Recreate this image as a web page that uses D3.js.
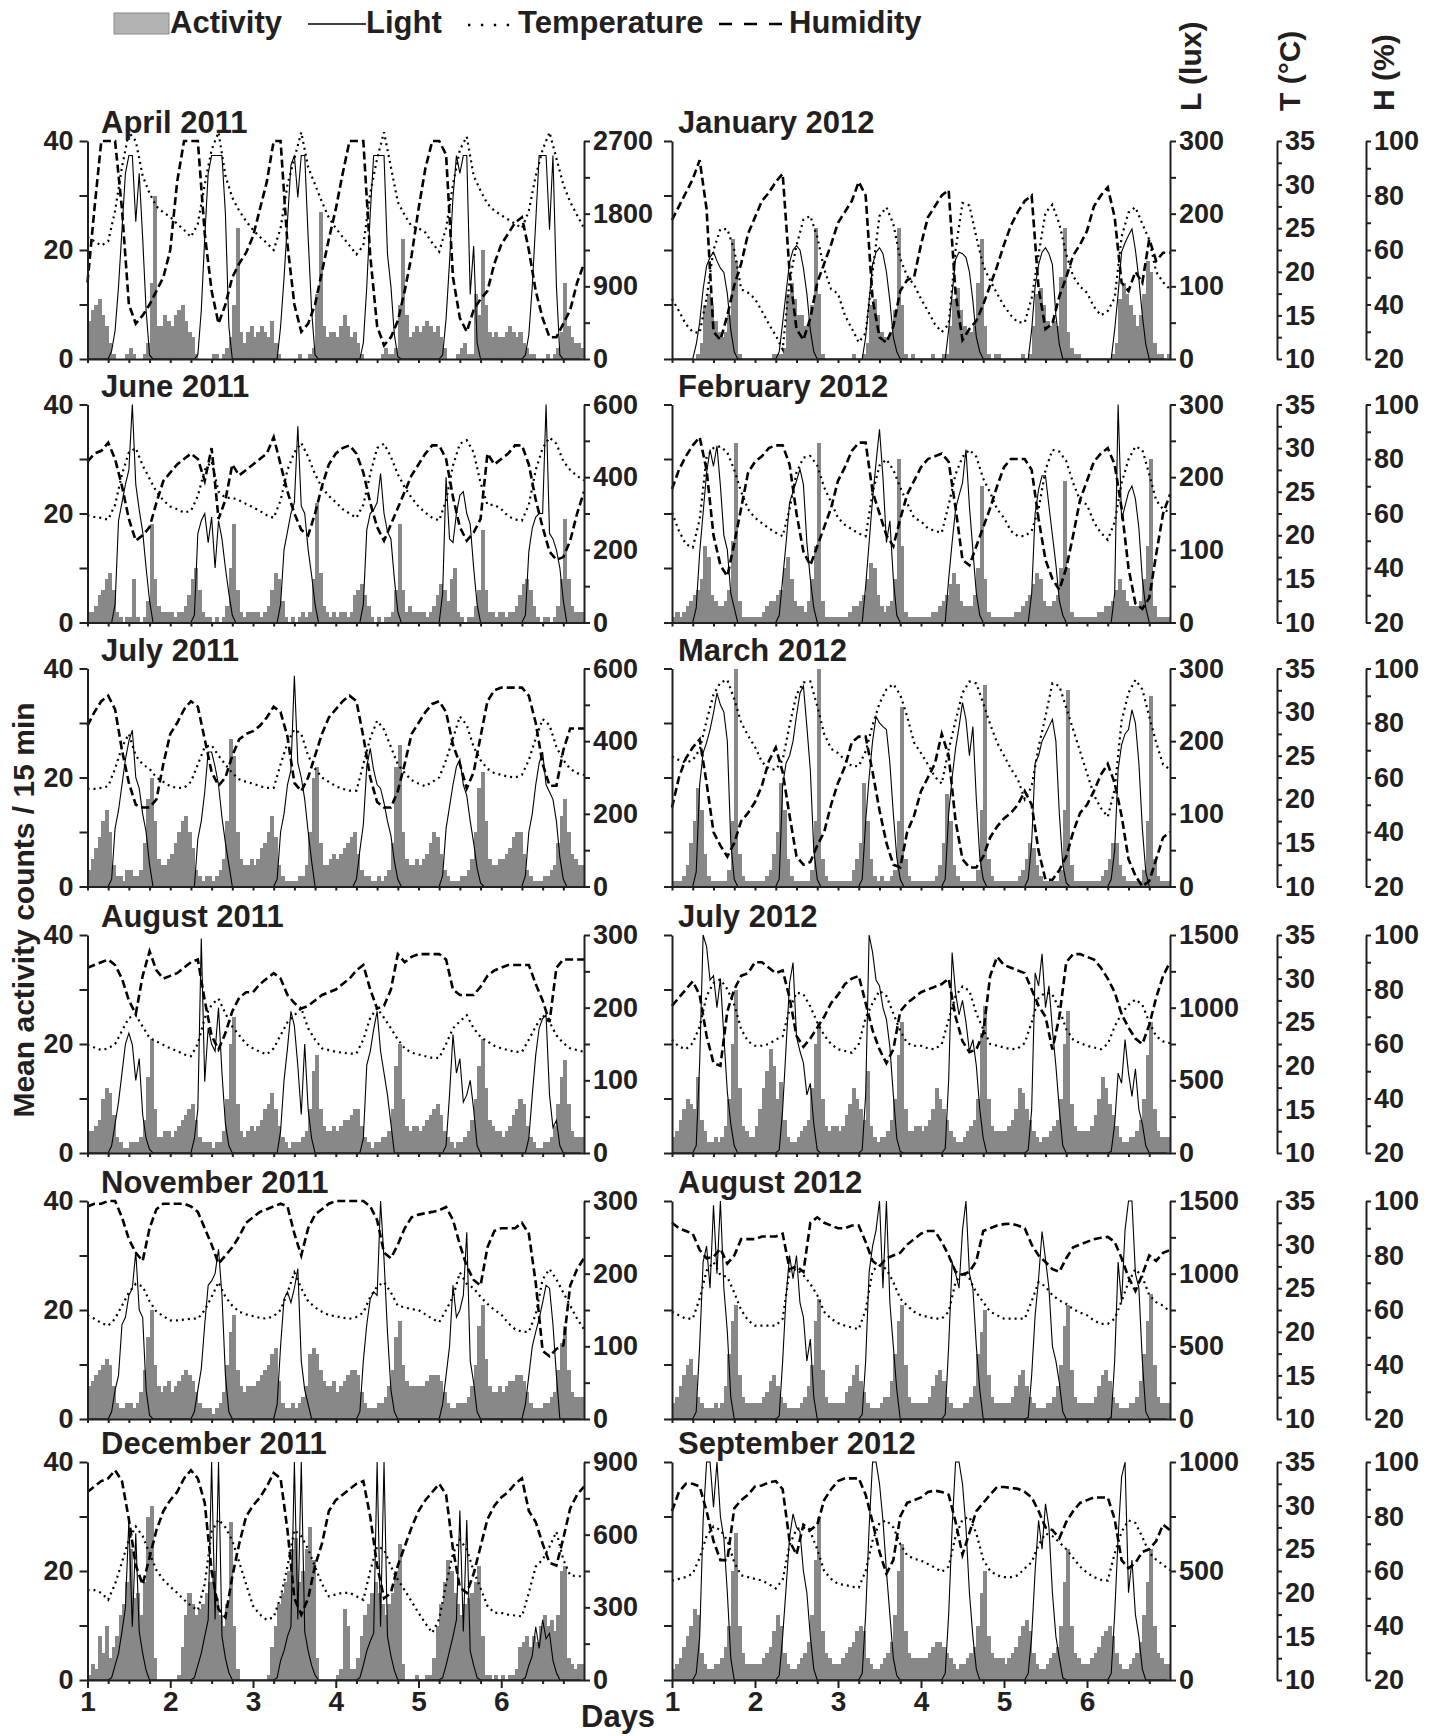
<!DOCTYPE html>
<html><head><meta charset="utf-8">
<script src="https://cdn.jsdelivr.net/npm/d3@7"></script>
<style>
body{margin:0;background:#fff}
svg text{font-family:"Liberation Sans",Arial,Helvetica,sans-serif;font-weight:bold;fill:#231f20}
</style>
</head><body>
<svg id="chart" width="1439" height="1736"></svg>
<script>
// ---------------- DATA ----------------
const months = ['April 2011','June 2011','July 2011','August 2011','November 2011','December 2011',
                'January 2012','February 2012','March 2012','July 2012','August 2012','September 2012'];
const luxMax = [2700,600,600,300,300,900,300,300,300,1500,1500,1000];
const luxTicks = [
 [0,450,900,1350,1800,2250,2700],[0,100,200,300,400,500,600],[0,100,200,300,400,500,600],
 [0,50,100,150,200,250,300],[0,50,100,150,200,250,300],[0,150,300,450,600,750,900],
 [0,50,100,150,200,250,300],[0,50,100,150,200,250,300],[0,50,100,150,200,250,300],
 [0,250,500,750,1000,1250,1500],[0,250,500,750,1000,1250,1500],[0,250,500,750,1000]];
const luxLabels = [
 [0,900,1800,2700],[0,200,400,600],[0,200,400,600],[0,100,200,300],[0,100,200,300],[0,300,600,900],
 [0,100,200,300],[0,100,200,300],[0,100,200,300],[0,500,1000,1500],[0,500,1000,1500],[0,500,1000]];
const actTicks = [0,10,20,30,40];
const actLabels = [0,20,40];
const dayTicks = [1,2,3,4,5,6];
const tTicks = [10,12.5,15,17.5,20,22.5,25,27.5,30,32.5,35];
const tLabels = [10,15,20,25,30,35];
const hTicks = [20,30,40,50,60,70,80,90,100];
const hLabels = [20,40,60,80,100];
const legendItems = ['Activity','Light','Temperature','Humidity'];

// activity: mean counts / 15 min, hourly (6 days x 24 h)
const actApr11 = [
 7,9,10,11,8,6,3,1,0,0,0,1,2,1,0,0,1,3,14,30,6,6,8,7,
 6,8,9,10,7,5,4,1,0,0,0,0,1,1,0,1,2,4,10,24,5,3,5,6,
 4,5,6,5,4,7,3,1,0,0,0,0,0,1,0,0,1,2,12,27,6,4,5,5,
 4,6,8,6,4,5,3,1,0,0,0,0,0,1,2,1,1,2,10,22,8,4,5,6,
 5,6,7,6,5,6,4,2,0,0,0,1,2,3,1,1,12,8,20,10,5,4,5,4,
 4,5,6,5,4,5,3,2,1,1,0,0,0,1,0,1,2,5,14,6,4,3,3,2];
const luxApr11 = [
 0,0,0,0,0,0,0,100,350,900,1600,2300,2520,2520,1700,2300,1500,600,50,0,0,0,0,0,
 0,0,0,0,0,0,0,0,50,600,1500,2300,2520,2520,2520,2520,1800,400,0,0,0,0,0,0,
 0,0,0,0,0,0,0,0,400,1000,1700,2400,2520,2000,2520,2520,1500,600,50,0,0,0,0,0,
 0,0,0,0,0,0,0,0,200,900,1800,2520,2520,2520,2520,1300,900,300,30,0,0,0,0,0,
 0,0,0,0,0,0,0,50,500,1200,2000,2520,2300,2520,2520,800,1400,200,0,0,0,0,0,0,
 0,0,0,0,0,0,0,50,300,900,1700,2520,2520,2520,1600,2520,900,50,0,0,0,0,0,0];
const tmpApr11 = [
 24,23.5,23,23.5,27,32,36,35,31,29,27.5,26.8,
 26.3,25.5,24.8,24,25.5,30,34,36,31,28.5,27,25.8,
 24.8,24,23.3,22.5,25,30,33,36,32,30,28,26.2,
 25,24,23,22,23,29,33,36,32,28,26.5,25.2,
 25,24.5,23.3,22.3,25,30,34,35.5,31,29.3,27.8,27,
 26.5,26,25.5,25,27,31,34,36,33,30,28,26.5,25];
const humApr11 = [
 48,75,100,100,100,75,40,33,36,40,45,50,
 60,85,100,100,100,66,45,33,40,50,55,59,
 65,75,85,100,100,62,40,30,33,40,52,64,
 75,88,100,100,100,58,32,25,28,34,45,58,
 75,90,100,100,95,50,35,30,38,42,45,55,
 62,66,70,72,60,45,35,28,28,33,38,48,55];

const actJun11 = [
 2,2,3,5,6,8,9,6,2,1,0,1,1,8,1,0,1,4,18,8,3,2,2,2,
 2,1,2,2,3,5,8,10,6,2,1,1,0,1,0,1,3,10,18,6,2,1,2,2,
 2,2,1,2,3,6,9,8,4,1,0,1,0,1,2,1,2,8,22,9,3,2,1,2,
 1,2,2,1,2,5,6,7,5,3,1,0,1,0,1,1,2,6,18,6,2,3,2,2,
 2,2,1,2,3,5,7,6,4,8,10,2,1,0,1,1,3,6,17,6,2,2,1,2,
 2,1,2,2,3,5,7,8,6,3,1,0,1,1,0,1,3,8,19,8,3,2,2,2];
const luxJun11 = [
 0,0,0,0,0,0,0,0,50,280,330,380,420,600,380,310,250,150,60,0,0,0,0,0,
 0,0,0,0,0,0,0,20,245,280,300,220,290,150,280,230,150,80,20,0,0,0,0,0,
 0,0,0,0,0,0,0,0,50,200,250,300,330,540,320,300,200,130,50,0,0,0,0,0,
 0,0,0,0,0,0,0,0,50,255,300,310,330,410,300,250,230,120,30,0,0,0,0,0,
 0,0,0,0,0,0,0,80,400,230,220,300,350,360,300,270,150,50,0,0,0,0,0,0,
 0,0,0,0,0,0,0,20,195,260,290,300,300,600,245,230,200,150,60,0,0,0,0,0];
const tmpJun11 = [
 22.3,22.1,22,21.8,23.5,27,29.5,30,28,26.5,25,24,
 23.3,23,22.6,22.8,24.5,27.5,28.5,25,24.3,24.3,24,23.6,
 23.2,22.8,22.3,22,24,27.5,29.5,30.6,29,27,25.5,24.5,
 23.8,23,22.5,22,23.5,27,30,30.5,29,27,25.5,24.3,
 23.3,22.6,22,21.7,24,28,30.5,30.9,29.5,26,23.5,23.5,
 23,22.2,21.8,21.7,23.5,27.5,30,31.2,30.5,28.5,27.5,26.8,26.3];
const humJun11 = [
 79,82,83,86,80,70,58,50,52,55,64,72,
 75,78,80,82,80,72,84,58,65,78,74,76,
 78,80,82,88,78,68,60,54,52,60,70,78,
 82,84,85,82,75,64,55,50,56,62,68,74,
 78,82,85,85,80,66,55,50,53,58,82,78,
 80,82,85,85,78,65,55,46,43,44,50,60,68];

const actJul11 = [
 3,5,7,9,12,14,10,4,2,2,1,3,3,2,2,3,8,16,20,12,5,4,4,5,
 6,8,10,12,13,10,7,3,2,1,2,2,1,2,3,5,12,27,24,10,5,4,4,5,
 4,5,7,8,10,13,9,4,2,1,1,1,1,2,2,4,10,20,22,8,4,4,5,6,
 5,6,7,8,9,10,6,3,2,2,1,1,2,1,2,3,8,22,26,10,5,4,4,5,
 4,5,6,8,10,9,6,3,2,1,1,1,2,2,3,5,10,18,21,12,5,4,4,5,
 5,6,7,9,10,10,6,3,2,1,1,1,2,2,3,4,8,13,16,10,6,5,4,4];
const luxJul11 = [
 0,0,0,0,0,0,0,20,160,210,280,350,400,430,300,270,200,150,60,0,0,0,0,0,
 0,0,0,0,0,0,0,0,130,180,260,370,370,330,280,190,120,60,0,0,0,0,0,0,
 0,0,0,0,0,0,0,20,150,200,280,320,580,340,300,240,150,70,0,0,0,0,0,0,
 0,0,0,0,0,0,20,100,170,330,380,320,280,270,230,180,140,70,20,0,0,0,0,0,
 0,0,0,0,0,0,0,30,160,220,280,330,350,280,250,180,120,50,10,0,0,0,0,0,
 0,0,0,0,0,0,0,30,150,200,280,340,370,280,260,240,180,80,20,0,0,0,0,0];
const tmpJul11 = [
 21.2,21.2,21.3,21.5,23.5,26,27.5,25,24,23.5,22.5,22,
 21.5,21.3,21.3,22,24,26,26.2,25,24,23,22.3,22,
 21.8,21.5,21.3,21.3,24,26.5,28,27.5,25,23.5,22.5,22,
 21.5,21.2,21,21,24,27,29,28,26,24,23,22.2,
 21.8,21.5,22,22.5,24.5,27,29.5,28.5,26,24.5,23.5,23,
 22.8,22.6,22.5,22.8,24.5,27,29.2,28.5,26,24.5,23.5,23,22.8];
const humJul11 = [
 79,84,88,90,85,70,58,50,49,49,52,65,
 76,80,85,88,86,74,62,57,60,68,74,76,
 77,79,82,86,84,75,58,55,60,68,76,82,
 85,88,90,88,75,60,51,49,49,55,65,76,
 80,84,87,88,84,72,65,56,62,75,88,92,
 93,93,93,93,90,80,65,57,57,70,78,78,78];

const actAug11 = [
 4,4,5,6,10,12,11,7,3,2,1,1,2,2,2,3,6,14,21,8,3,3,4,4,
 3,4,5,6,7,8,9,6,3,2,2,2,1,2,2,4,10,20,25,9,4,3,4,5,
 4,5,6,8,9,11,8,5,3,2,1,2,2,2,3,4,8,15,18,8,5,4,4,5,
 4,5,6,6,7,8,8,5,3,2,1,2,2,3,3,4,8,16,20,10,5,4,5,5,
 4,5,6,7,8,9,7,4,3,2,1,2,2,3,4,6,10,16,21,12,6,5,4,4,
 3,4,5,7,8,10,9,5,3,2,1,1,2,2,3,5,9,14,17,9,4,3,3,3];
const luxAug11 = [
 0,0,0,0,0,0,0,10,40,70,110,150,165,149,100,130,53,20,5,0,0,0,0,0,
 0,0,0,0,0,0,0,20,60,295,98,172,150,140,200,110,40,10,0,0,0,0,0,0,
 0,0,0,0,0,0,0,0,30,100,144,195,175,120,53,150,60,20,0,0,0,0,0,0,
 0,0,0,0,0,0,0,0,20,121,140,170,195,140,110,80,40,0,0,0,0,0,0,0,
 0,0,0,0,0,0,0,0,10,80,163,110,130,70,80,100,60,10,0,0,0,0,0,0,
 0,0,0,0,0,0,0,0,20,80,135,172,185,190,80,35,45,10,0,0,0,0,0,0];
const tmpAug11 = [
 22.4,22.1,21.8,22,22.5,24,25.5,25.8,24.5,23.2,22.8,22.4,
 22,21.7,21.3,21.1,22.5,25.5,27,27.7,26,24.5,23.5,22.5,
 22,21.6,21.3,22,23.5,25,25.8,26.6,24.3,23,22,21.8,
 21.6,21.5,21.4,21.4,23,25.5,26.6,25.5,24.3,23,22,21.5,
 21.3,21.1,20.9,20.9,22.5,24.3,25.1,25.8,24.3,23.3,22.8,22.3,
 22,21.8,21.6,21.6,23,24.5,25.8,25,23.5,22.6,22,21.8,21.6];
const humAug11 = [
 88,89,90,91,89,84,76,71,85,94,87,84,
 85,86,88,90,91,76,63,58,64,72,77,79,
 79,82,84,86,84,78,75,73,74,76,78,79,
 80,82,84,87,89,80,73,74,80,93,90,92,
 93,93,93,93,91,80,78,78,78,81,85,87,
 88,89,89,89,89,82,76,68,88,91,91,91,91];

const actNov11 = [
 6,7,8,9,10,11,10,6,3,2,2,3,3,2,3,5,9,15,20,10,6,5,6,7,
 5,6,7,8,9,8,7,5,3,2,2,2,1,2,3,5,10,16,19,9,6,5,6,6,
 6,7,8,9,10,12,13,7,3,2,2,3,2,3,4,6,12,13,12,9,7,6,6,7,
 5,6,7,8,9,9,8,5,3,2,2,2,3,3,4,6,9,15,18,10,7,6,6,6,
 6,6,7,8,8,8,7,5,3,2,2,3,3,3,4,6,10,17,21,11,6,5,5,6,
 5,6,7,7,8,8,7,5,3,2,2,2,3,3,4,5,9,14,17,9,5,4,4,4];
const luxNov11 = [
 0,0,0,0,0,0,0,10,40,60,130,140,170,180,230,150,140,40,5,0,0,0,0,0,
 0,0,0,0,0,0,0,10,40,69,130,184,190,200,234,170,60,10,0,0,0,0,0,0,
 0,0,0,0,0,0,0,20,100,165,175,160,180,207,80,40,20,0,0,0,0,0,0,0,
 0,0,0,0,0,0,0,10,80,130,165,175,170,300,220,120,40,10,0,0,0,0,0,0,
 0,0,0,0,0,0,0,20,60,100,184,140,150,170,257,80,50,10,0,0,0,0,0,0,
 0,0,0,0,0,0,0,20,60,100,120,138,160,184,180,130,60,0,0,0,0,0,0,0];
const tmpNov11 = [
 21.9,21.5,21,20.7,21.5,23,24.5,25.5,25.2,23.5,22.3,21.8,
 21.3,21.3,21.4,21.5,21.5,22.5,24,25.7,24,23,22.3,22,
 21.8,21.6,21.5,21.8,22.5,24.5,26.8,25,23.5,22.8,22.3,21.9,
 21.8,21.6,21.5,21.7,22.2,24,25.2,25.7,24.5,23,22.8,22.6,
 22.5,22,21.5,21.1,22.5,24,26.8,25.5,25,24,23.2,22.5,
 22,21,20.3,20,20,22,26,27.2,26,24.5,23,21.5,20.3];
const humNov11 = [
 98,99,99,100,100,94,86,81,78,90,97,99,
 99,99,99,98,96,90,84,77,80,83,87,92,
 94,96,97,98,99,98,88,80,90,95,97,99,
 100,100,100,100,100,98,93,81,79,84,90,94,
 95,95.5,96,96.6,97.8,93,84,76,71,69,83,89,
 90,90,90,92,88,70,45,43,45.7,47,69,75,79];

const actDec11 = [
 1,3,2,8,5,10,4,6,8,12,14,18,24,15,16,12,18,30,32,4,0,0,0,0,
 0,0,1,6,12,16,14,12,13,14,16,18,20,15,12,10,14,29,10,2,0,0,0,0,
 0,0,0,0,1,6,10,14,16,18,20,24,26,18,20,24,28,22,4,0,0,0,0,0,
 1,2,13,10,2,2,4,8,12,14,16,18,16,14,12,14,16,20,25,3,0,0,0,1,
 0,0,1,1,4,10,14,18,22,20,16,14,12,14,15,16,18,21,8,1,1,0,1,0,
 1,0,1,1,2,6,7,8,6,8,7,10,12,10,11,9,12,20,21,4,3,2,3,3];
const luxDec11 = [
 0,0,0,0,0,0,0,10,60,110,200,300,660,220,606,200,110,40,0,0,0,0,0,0,
 0,0,0,0,0,0,0,10,60,110,180,248,900,250,900,180,90,30,0,0,0,0,0,0,
 0,0,0,0,0,0,0,10,80,120,180,220,900,250,900,200,120,60,20,0,0,0,0,0,
 0,0,0,0,0,0,0,10,60,120,160,193,900,220,900,180,100,40,0,0,0,0,0,0,
 0,0,0,0,0,0,0,10,60,120,180,248,700,200,660,120,60,10,0,0,0,0,0,0,
 0,0,0,0,0,0,0,10,60,100,220,130,248,170,193,80,30,0,0,0,0,0,0,0];
const tmpDec11 = [
 20.3,20.3,20,19.2,21,23.5,26.1,27.6,26.5,24.5,22.6,21.5,
 20.7,20,19.2,18.5,18,21,27,28.4,27.5,26,23.5,21,
 18.5,17.5,16.9,17.2,19.5,23,27.2,26.5,25,23,21,19.6,
 19.8,20,20,19.6,19.2,22.5,25.3,25,23,21.5,20.3,19,
 17.7,16.5,15.4,17,21,24.5,26.1,25,22.5,20.5,18.5,17.7,
 17.7,17.5,17.4,17.3,20,23,23.8,25.3,27,23.8,22,21.9,21.9];
const humDec11 = [
 89,91,93,94,97,93,79,62,55,65,75,82,
 86,89,94,97,94,85,60,46,43,58,70,80,
 84,87,91,96,94,75,50,44,50,62,70,82,
 86,88,90,92,93,80,62,50,52,62,69,76,
 82,86,89,92,88,68,54,52,59,69,79,84,
 87,89,92,94,82,78,70,63,62,72,83,88,91];

const actJan12 = [
 0,0,0,0,0,0,0,1,3,10,12,10,7,5,4,5,8,22,18,1,0,0,0,0,
 0,0,0,0,0,1,1,1,2,12,14,11,8,8,6,6,10,24,12,1,0,0,0,0,
 0,0,0,0,1,0,0,1,3,10,11,8,5,4,4,5,9,24,10,1,0,1,0,0,
 0,0,0,1,0,0,1,1,6,11,13,9,6,5,5,6,14,22,6,1,0,1,1,0,
 0,0,0,0,0,1,0,1,6,12,13,10,7,6,7,6,15,24,5,2,1,1,0,0,
 0,0,0,0,0,0,0,1,3,11,14,12,10,8,6,8,12,18,16,3,1,1,0,1];
const luxJan12 = [
 0,0,0,0,0,0,0,20,50,96,128,140,147,135,125,119,90,40,10,0,0,0,0,0,
 0,0,0,0,0,0,0,10,50,92,133,150,156,150,125,90,40,10,0,0,0,0,0,0,
 0,0,0,0,0,0,0,0,30,80,130,147,153,145,120,80,30,10,0,0,0,0,0,0,
 0,0,0,0,0,0,0,0,40,90,137,147,145,140,120,80,30,10,0,0,0,0,0,0,
 0,0,0,0,0,0,0,0,40,100,130,147,153,145,130,60,20,0,0,0,0,0,0,0,
 0,0,0,0,0,0,0,0,40,90,147,160,170,179,150,110,60,20,0,0,0,0,0,0];
const tmpJan12 = [
 16.9,15.5,14,13.1,13,17,22.5,24.9,24.9,22.5,18,17.6,
 16.9,15.5,14,12.7,11.1,19,23,26,26.4,24,20.3,18,
 17.5,15,13.5,11.9,13,20,26.4,27.4,25.5,21.5,19.5,18.5,
 16.9,15.5,14,13.1,14,22.5,27.9,27.6,24,20.7,19,17.5,
 16.1,15,14.2,14.2,17,22,26.8,27.7,25.5,22,19.5,18.3,
 17.6,16,15,15.5,17,24,26.8,27.4,25.5,23.7,20,18.8,18];
const humJan12 = [
 71,76,81,86,93,75,30,27,36,47,55,66,
 72,78,81,85,88,52,31,27,35,48,55,62,
 70,74,78,85,80,42,28,26,32,45,49,50,
 62,72,76,80,82,44,27,31,34,40,47,54,
 62,69,74,78,80,46,31,33,43,50,58,62,
 67,76,80,83,72,48,45,52,48,64,56,59,59];

const actFeb12 = [
 1,2,1,2,3,4,5,6,8,14,12,5,4,3,3,4,6,15,33,4,1,1,1,1,
 1,1,2,3,4,4,5,6,10,12,8,4,3,3,2,4,8,14,33,4,1,1,1,1,
 1,1,1,2,3,3,4,5,8,11,10,5,3,2,3,4,8,30,14,2,1,1,1,1,
 1,1,1,2,2,3,4,5,7,9,7,4,3,3,3,5,10,25,8,2,1,1,1,1,
 1,1,1,2,2,3,4,5,7,9,8,4,3,3,4,5,10,26,10,2,1,1,1,1,
 1,1,1,2,2,3,3,4,6,8,6,4,3,3,3,4,8,14,30,3,1,1,1,1];
const luxFeb12 = [
 0,0,0,0,0,0,0,20,96,151,206,238,215,243,188,120,100,40,20,0,0,0,0,0,
 0,0,0,0,0,0,0,10,60,110,165,180,195,211,190,110,60,20,0,0,0,0,0,0,
 0,0,0,0,0,0,0,0,50,110,170,220,266,200,110,140,60,10,0,0,0,0,0,0,
 0,0,0,0,0,0,0,0,60,110,156,175,192,238,160,100,40,10,0,0,0,0,0,0,
 0,0,0,0,0,0,0,0,40,150,183,202,202,160,120,80,30,10,0,0,0,0,0,0,
 0,0,0,0,0,0,0,0,40,300,142,160,179,188,170,130,60,20,0,0,0,0,0,0];
const tmpFeb12 = [
 22.6,20.5,19,18.6,21.8,29,30,30.2,29.5,27.5,25,23,
 22,21.4,20.8,20.3,19.9,23,27.2,28.9,29.1,28,25.5,23.8,
 22,21.2,20.7,20.2,19.9,24.9,28,28.7,27.5,25.5,23.7,22,
 21.6,20.8,20.5,20.3,23.5,27,29,29.8,29,26.5,24.9,23,
 22,20.5,19.9,19.9,20.5,23,27.5,29.8,29.6,28.5,26,24,
 23.5,21.5,20.3,19.5,21.5,26,28.7,30.2,29.8,27,24,23,22.6];
const humFeb12 = [
 69,76,81,85,88,76,52,41,37,49,62,75,
 79,81,84,85,85,78,60,46,41,48,55,62,
 72,77,83,86,86,68,60,52,48,58,67,72,
 77,80,81,82,79,62,43,41,48,55,62,70,
 77,80,80,80,76,58,43,36,32,40,52,65,
 72,79,82,84,78,62,40,27,25,29,45,60,67];

const actMar12 = [
 1,1,1,2,4,8,12,18,14,6,2,1,1,1,1,1,3,12,40,6,2,1,1,1,
 1,1,1,2,3,6,10,19,14,5,2,1,1,1,1,1,3,12,40,5,2,1,1,1,
 1,1,1,1,3,5,8,19,12,5,2,1,2,1,1,2,3,12,33,5,2,1,1,1,
 1,1,1,1,2,4,8,17,12,4,2,1,1,1,1,1,3,14,37,5,2,1,1,1,
 1,1,1,1,2,3,5,8,7,4,2,1,1,1,1,1,3,14,36,4,1,1,1,1,
 1,1,1,1,2,3,5,8,8,4,2,1,1,1,1,1,3,12,35,5,2,1,1,1];
const luxMar12 = [
 0,0,0,0,0,0,0,20,140,184,198,216,239,266,250,240,200,60,10,0,0,0,0,0,
 0,0,0,0,0,0,0,10,140,170,180,200,235,266,276,220,160,50,10,0,0,0,0,0,
 0,0,0,0,0,0,0,10,90,150,200,234,225,220,216,170,100,40,10,0,0,0,0,0,
 0,0,0,0,0,0,0,10,100,150,190,220,253,230,180,220,120,40,10,0,0,0,0,0,
 0,0,0,0,0,0,0,10,60,170,180,200,210,220,230,200,100,30,5,0,0,0,0,0,
 0,0,0,0,0,0,0,10,50,161,195,210,216,243,225,170,80,20,0,0,0,0,0,0];
const tmpMar12 = [
 24.9,24.5,24.2,24.5,25.7,29,32,33.4,33.7,31.5,28.8,27.3,
 26,24.3,23.5,23.4,24.5,28.5,32,33.4,33.5,30.7,27.5,25.8,
 25.3,24.5,23.8,23.8,25.5,28.5,31,32.6,33.2,32,29.5,26.5,
 25.3,24,22.6,21.8,25.7,29,32.2,33.5,33.3,31,28.6,26.5,
 25,23.5,22.3,20,21.5,26,29.5,33.3,33,30.5,28,25.5,
 23,20.5,19,18,21.1,29,32.2,33.7,32.6,29.5,26.5,24,23.4];
const humMar12 = [
 49,60,67,71,74,58,40,35,31,36,44,47,
 51,57,66,71,62,46,31,28,29,35,40,50,
 58,64,73,75,75,62,48,36,28,27,40,46,
 55,60,65,76,68,44,30,27,27,31,38,42,
 45,47,50,55,50,33,22.5,22.5,26,31,40,47,
 50,55,61,65,58,46,30,24,20,22,30,38,40];

const actJul12 = [
 3,4,6,8,10,9,8,14,6,4,2,2,3,2,3,5,10,20,30,12,5,4,3,3,
 5,8,12,15,19,16,10,13,6,3,2,2,3,4,5,6,12,20,24,10,5,4,5,5,
 4,5,7,9,12,10,8,6,15,5,3,2,3,3,4,6,10,18,24,8,4,4,5,5,
 4,5,6,8,12,10,8,6,4,3,2,2,3,4,5,6,10,22,27,10,5,4,4,4,
 4,5,6,8,12,11,8,6,4,3,2,3,3,4,5,6,10,20,26,9,5,4,4,4,
 4,5,7,10,14,12,9,7,5,3,2,2,3,3,4,6,10,18,24,8,4,3,3,3];
const luxJul12 = [
 0,0,0,0,0,0,0,50,620,1500,1420,1190,1220,1000,1200,800,420,200,50,0,0,0,0,0,
 0,0,0,0,0,0,0,20,300,735,1170,1310,800,700,620,400,480,200,20,0,0,0,0,0,
 0,0,0,0,0,0,0,20,400,1500,1380,1190,1150,1000,920,730,400,100,10,0,0,0,0,0,
 0,0,0,0,0,0,0,30,500,1380,1100,950,1050,900,700,780,600,300,100,0,0,0,0,0,
 0,0,0,0,0,0,0,20,300,1240,1150,1370,1000,1150,850,600,300,50,0,0,0,0,0,0,
 0,0,0,0,0,0,0,10,200,550,480,780,550,390,580,300,200,50,0,0,0,0,0,0];
const tmpJul12 = [
 23,22.2,21.9,22.6,24.5,28,29.5,29.9,28.8,27,24.2,22.8,
 22.3,22.3,22.5,23,23.4,26.5,28.4,28.2,26.8,25,23.5,22.5,
 21.9,21.7,21.5,22.5,25.5,27.2,28.6,28,26,24,22.6,22.3,
 22.3,22,21.9,22.5,25.3,28,29.1,28.6,26,24.2,22.5,22.3,
 22.1,21.9,22,22.6,25,27.8,28.4,28.2,26.5,24.2,23,22.6,
 22.3,22.1,21.9,22.5,24.5,26,27,27.6,27,25,23.4,22.8,22.6];
const humJul12 = [
 74,77,80,83,78,63,53,52,72,80,85,86,
 90,90,88,86,87,77,63,59,62,66,70,75,
 78,82,84,85,75,65,58,53,58,72,75,77,
 79,80,81,82,84,70,61,57,58,64,85,92,
 89,88,87,86,80,74,70,58,70,90,93,93,
 92,91,88,84,79,71,66,62,60,67,77,85,90];

const actAug12 = [
 3,4,6,8,10,11,8,4,3,2,2,2,3,2,3,6,12,18,21,8,4,3,3,3,
 3,3,4,5,7,8,6,4,3,2,2,2,2,3,4,6,10,18,22,9,4,3,3,3,
 3,3,5,6,8,10,7,5,3,2,2,2,3,4,4,7,12,18,21,10,4,3,3,3,
 3,3,4,6,8,9,7,4,3,2,2,2,3,3,4,6,12,16,20,8,4,3,3,3,
 3,3,4,6,8,9,6,4,3,2,2,2,3,3,4,6,10,17,21,9,4,3,3,3,
 3,3,4,6,8,9,7,4,3,2,2,2,3,3,4,7,12,18,23,10,4,3,3,3];
const luxAug12 = [
 0,0,0,0,0,0,0,50,505,1080,1190,900,1470,1000,1500,900,600,150,0,0,0,0,0,0,
 0,0,0,0,0,0,0,20,400,850,1125,965,1125,800,700,400,550,150,0,0,0,0,0,0,
 0,0,0,0,0,0,0,30,400,1010,1190,1300,1500,900,1500,800,500,200,0,0,0,0,0,0,
 0,0,0,0,0,0,0,30,500,1080,1000,900,1300,1500,1000,900,500,200,0,0,0,0,0,0,
 0,0,0,0,0,0,0,10,300,712,965,1290,1100,900,500,400,250,50,0,0,0,0,0,0,
 0,0,0,0,0,0,0,10,400,1080,800,1300,1500,1500,1000,900,400,50,0,0,0,0,0,0];
const tmpAug12 = [
 22.3,21.9,21.5,21.5,23.8,27,28,26.5,26.3,24.5,22.5,21.3,
 20.7,20.7,20.7,20.7,21.5,27,27.2,26.5,25.5,24.2,22.3,21.5,
 21,20.7,20.5,20.3,22.5,27,27.6,27.2,25.7,23.8,23,22.3,
 21.9,21.7,21.5,21.5,22.3,25.7,26.8,26.1,24.5,23.4,22.3,21.9,
 21.5,21.5,21.5,21.5,23.5,25.7,25.2,24.2,23.6,23.2,22.6,22.2,
 21.9,21.3,20.9,20.9,21.5,23.5,25.7,27.2,26.3,24.2,23.4,23,22.3];
const humAug12 = [
 92,90,89,88,82,79,79.5,82.5,77,80,86,86,
 86,87,87,87,88,75,76,74,92,94,92,91,
 90,90,91,91,85,78,76,79,80,81,84,86,
 88,89,89,85,80,74,73,74,78,89,90,91,
 91.5,91.7,91,90,84,80,77.6,75,74,79,83,84,
 85,86,86.5,86.8,85,79,72,67,73,80,78,81,82];

const actSep12 = [
 2,3,4,6,8,10,13,12,5,3,2,2,3,3,4,6,10,20,27,10,5,3,3,3,
 3,3,4,5,6,9,12,10,5,3,2,2,3,4,5,7,12,22,30,9,5,4,3,3,
 3,4,5,6,7,9,10,9,4,3,2,2,3,4,5,7,12,20,25,9,5,4,4,4,
 4,4,5,6,7,7,6,5,4,3,2,3,3,4,5,6,10,16,20,8,5,4,4,4,
 3,4,5,6,8,10,11,9,5,3,2,2,3,4,5,6,10,18,24,10,5,4,3,3,
 3,4,5,6,8,9,10,8,5,3,2,2,3,4,5,7,12,18,24,10,5,4,3,3];
const luxSep12 = [
 0,0,0,0,0,0,0,30,196,732,1000,1000,793,1000,750,650,400,100,0,0,0,0,0,0,
 0,0,0,0,0,0,0,20,200,425,655,762,700,680,500,400,200,50,0,0,0,0,0,0,
 0,0,0,0,0,0,0,30,300,700,1000,1000,900,732,500,300,100,20,0,0,0,0,0,0,
 0,0,0,0,0,0,0,30,300,700,1000,1000,900,700,400,200,50,0,0,0,0,0,0,0,
 0,0,0,0,0,0,0,30,200,500,732,600,808,700,400,200,100,10,0,0,0,0,0,0,
 0,0,0,0,0,0,0,30,300,655,931,1000,400,550,300,200,50,0,0,0,0,0,0,0];
const tmpSep12 = [
 21.4,21.6,21.8,22.2,24,26.5,27.6,27.2,26,23.5,22,21.8,
 21.6,21.4,21,20.5,21.5,25.5,27.3,27.5,27,25,22.5,21.6,
 21,20.9,20.7,20.6,22.5,26,28,28.3,27.5,25.6,24.3,23.9,
 23.7,23.3,22.9,22.4,23,26.5,28.4,28.7,26.8,23.8,22.5,22,
 21.8,21.8,22,22.8,23.5,25.5,26.8,26.5,25.8,25,24,23,
 22.3,21.8,21.5,21.4,24.5,27,28.3,28,26.4,24.6,23.8,23.2,22.6];
const humSep12 = [
 82,89,92,92,91,82,71,64,64,83,86,88,
 91,91.4,92.5,93,90,71,66,77,75,77,86,90,
 93,94,94,94,88,78,67,59,64,80,85,86,
 87,89,89.5,89,88,78,66,74,82,85,88,90.8,
 90.8,90.5,90.2,89,87,82,76,75,72,78,82,85,
 86,87,87,87,79,64,61,63,67,68,71,77,75];

// ---------------- TABLE FOR DRAWING ----------------
const actSeries = [actApr11,actJun11,actJul11,actAug11,actNov11,actDec11,actJan12,actFeb12,actMar12,actJul12,actAug12,actSep12];
const luxSeries = [luxApr11,luxJun11,luxJul11,luxAug11,luxNov11,luxDec11,luxJan12,luxFeb12,luxMar12,luxJul12,luxAug12,luxSep12];
const tmpSeries = [tmpApr11,tmpJun11,tmpJul11,tmpAug11,tmpNov11,tmpDec11,tmpJan12,tmpFeb12,tmpMar12,tmpJul12,tmpAug12,tmpSep12];
const humSeries = [humApr11,humJun11,humJul11,humAug11,humNov11,humDec11,humJan12,humFeb12,humMar12,humJul12,humAug12,humSep12];

// ---------------- LAYOUT ----------------
const colX = [[87.5,584],[672,1170]];
const rowTop = [141,404.5,668.5,935,1201,1462];
const PH = 218;
const FONT_TICK = 27;
const BAR = '#888888';
const INK = '#231f20';

const svg = d3.select('#chart');

function styleAxis(g, size){
  g.attr('font-size', size).attr('font-family','"Liberation Sans",Arial,sans-serif').attr('font-weight','bold');
  g.selectAll('path.domain').attr('stroke', INK).attr('stroke-width', 2);
  g.selectAll('.tick line').attr('stroke', INK).attr('stroke-width', 2);
  g.selectAll('.tick text').attr('fill', INK);
}

months.forEach((m, i) => {
  const col = i < 6 ? 0 : 1, row = i % 6;
  const [x0, x1] = colX[col];
  const top = rowTop[row], bot = top + PH;
  const x = d3.scaleLinear().domain([1, 7]).range([x0, x1]);
  const yA = d3.scaleLinear().domain([0, 40]).range([bot, top]);
  const yL = d3.scaleLinear().domain([0, luxMax[i]]).range([bot, top]);
  const yT = d3.scaleLinear().domain([10, 35]).range([bot, top]);
  const yH = d3.scaleLinear().domain([20, 100]).range([bot, top]);
  const g = svg.append('g');

  // activity bars (hourly)
  const bw = x(1 + 1/24) - x(1);
  g.append('g').attr('shape-rendering', 'crispEdges').selectAll('rect').data(actSeries[i]).join('rect')
    .attr('x', (d, k) => x(1 + k/24))
    .attr('width', bw + 0.6)
    .attr('y', d => yA(d))
    .attr('height', d => bot - yA(d))
    .attr('fill', BAR);

  // light line
  g.append('path').datum(luxSeries[i])
    .attr('d', d3.line().x((d, k) => x(1 + k/24)).y(d => yL(d)))
    .attr('fill', 'none').attr('stroke', '#000').attr('stroke-width', 1.1);
  // temperature (2 h)
  g.append('path').datum(tmpSeries[i])
    .attr('d', d3.line().x((d, k) => x(1 + k/12)).y(d => yT(d)))
    .attr('fill', 'none').attr('stroke', '#000').attr('stroke-width', 2.2)
    .attr('stroke-dasharray', '2,4');
  // humidity (2 h)
  g.append('path').datum(humSeries[i])
    .attr('d', d3.line().x((d, k) => x(1 + k/12)).y(d => yH(d)))
    .attr('fill', 'none').attr('stroke', '#000').attr('stroke-width', 2.6)
    .attr('stroke-dasharray', '8,4');

  // left axis (activity)
  const gl = g.append('g').attr('transform', `translate(${x0},0)`)
    .call(d3.axisLeft(yA).tickValues(actTicks).tickSize(8).tickSizeOuter(0).tickPadding(6)
      .tickFormat(d => (col === 0 && actLabels.includes(d)) ? d : ''));
  styleAxis(gl, FONT_TICK);

  // right axis (light)
  const gr = g.append('g').attr('transform', `translate(${x1},0)`)
    .call(d3.axisRight(yL).tickValues(luxTicks[i]).tickSize(6).tickSizeOuter(0).tickPadding(3)
      .tickFormat(d => luxLabels[i].includes(d) ? d : ''));
  styleAxis(gr, FONT_TICK);

  // bottom axis
  const isBottom = row === 5;
  const minor = d3.range(0, 25).map(k => 1 + k/4).filter(v => v < 7);
  const gb = g.append('g').attr('transform', `translate(0,${bot})`)
    .call(d3.axisBottom(x).tickValues(isBottom ? dayTicks : minor).tickSize(isBottom ? 8 : 4)
      .tickSizeOuter(0).tickPadding(3).tickFormat(d => isBottom ? d : ''));
  styleAxis(gb, 28);
  if (isBottom) {
    const gm = g.append('g').attr('transform', `translate(0,${bot})`)
      .call(d3.axisBottom(x).tickValues(minor.filter(v => !dayTicks.includes(v))).tickSize(4).tickSizeOuter(0).tickFormat(''));
    styleAxis(gm, 28);
    gm.select('path.domain').remove();
  }

  // title
  g.append('text').attr('x', x0 + (col === 0 ? 13.5 : 6)).attr('y', top - 8)
    .attr('font-size', 31).text(m);

  // T and H axes for right column
  if (col === 1) {
    const gt = g.append('g').attr('transform', 'translate(1277,0)')
      .call(d3.axisRight(yT).tickValues(tTicks).tickSize(5).tickSizeOuter(0).tickPadding(3)
        .tickFormat(d => tLabels.includes(d) ? d : ''));
    styleAxis(gt, FONT_TICK);
    const gh = g.append('g').attr('transform', 'translate(1366,0)')
      .call(d3.axisRight(yH).tickValues(hTicks).tickSize(5).tickSizeOuter(0).tickPadding(3)
        .tickFormat(d => hLabels.includes(d) ? d : ''));
    styleAxis(gh, FONT_TICK);
  }
});

// axis titles
svg.append('text').attr('transform', 'translate(1201,111) rotate(-90)').attr('font-size', 30).text('L (lux)');
svg.append('text').attr('transform', 'translate(1300,111) rotate(-90)').attr('font-size', 30).text('T (°C)');
svg.append('text').attr('transform', 'translate(1394,111) rotate(-90)').attr('font-size', 30).text('H (%)');
svg.append('text').attr('transform', 'translate(34,910) rotate(-90)').attr('text-anchor', 'middle')
  .attr('font-size', 30).text('Mean activity counts / 15 min');
svg.append('text').attr('x', 581).attr('y', 1727).attr('font-size', 31).text('Days');

// legend
const lg = svg.append('g');
lg.append('rect').attr('x', 114).attr('y', 13).attr('width', 55).attr('height', 21)
  .attr('fill', '#b3b3b3').attr('stroke', '#8a8a8a').attr('stroke-width', 1);
lg.append('text').attr('x', 170).attr('y', 33).attr('font-size', 31).text(legendItems[0]);
lg.append('line').attr('x1', 308).attr('x2', 366).attr('y1', 24).attr('y2', 24).attr('stroke', '#000').attr('stroke-width', 1.5);
lg.append('text').attr('x', 366).attr('y', 33).attr('font-size', 31).text(legendItems[1]);
lg.append('line').attr('x1', 468).attr('x2', 517).attr('y1', 25).attr('y2', 25).attr('stroke', '#000').attr('stroke-width', 2.4).attr('stroke-dasharray', '2.4,10.5');
lg.append('text').attr('x', 518).attr('y', 33).attr('font-size', 31).text(legendItems[2]);
lg.append('line').attr('x1', 719).attr('x2', 790).attr('y1', 24).attr('y2', 24).attr('stroke', '#000').attr('stroke-width', 2.4).attr('stroke-dasharray', '13,12');
lg.append('text').attr('x', 789).attr('y', 33).attr('font-size', 31).text(legendItems[3]);
</script>
</body></html>
